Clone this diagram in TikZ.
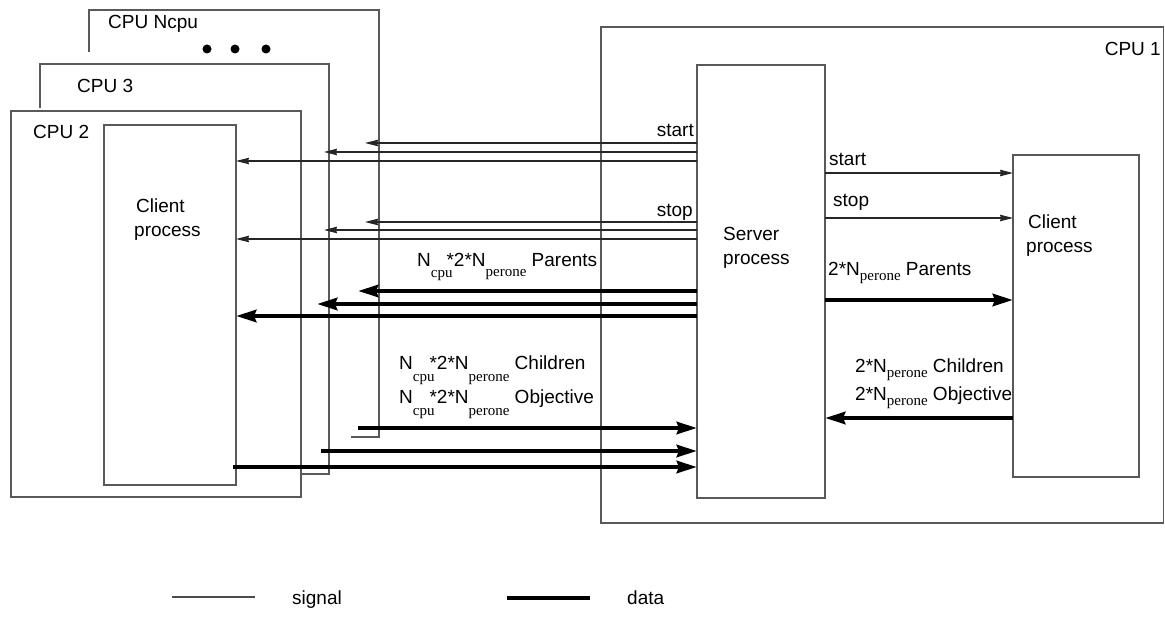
\documentclass[tikz,border=0pt]{standalone}
\usepackage{fontspec}
\setmainfont{Liberation Sans}
\newfontfamily\subf{Liberation Serif}
\usetikzlibrary{arrows.meta}
\newcommand\lsub[2]{\raisebox{#1}{\subf\fontsize{15}{15}\selectfont #2}}
\begin{document}
\begin{tikzpicture}[x=1pt,y=-1pt,
  frame/.style={draw=black!65,line width=1.3pt},
  box/.style={frame,anchor=north west,inner sep=0pt,outer sep=0pt},
  sig/.style={draw=black!85,line width=1.1pt,-{Stealth[length=13pt,width=6.5pt,inset=1pt]}},
  dat/.style={draw=black,line width=4.5pt,-{Stealth[length=20pt,width=12pt,inset=2pt]}},
  lbl/.style={inner sep=0pt,font=\fontsize{19}{24}\selectfont},
]
\useasboundingbox (0,0) rectangle (1165,636);
% back CPU frames
\draw[frame] (89,52) -- (89,10) -- (379,10) -- (379,437) -- (351,437);
\draw[frame] (40,108) -- (40,64) -- (329,64) -- (329,474) -- (302,474);
\fill[black] (207,49) circle (4.5) (235,49) circle (4.5) (266,49) circle (4.5);
% boxes
\node[box,minimum width=290pt,minimum height=386pt] (cpu2) at (11,111) {};
\node[box,minimum width=132pt,minimum height=360pt] (clientL) at (104,125) {};
\node[box,minimum width=562.5pt,minimum height=496pt] (cpu1) at (601,27) {};
\node[box,minimum width=128pt,minimum height=433pt] (server) at (697,65) {};
\node[box,minimum width=126pt,minimum height=322pt] (clientR) at (1013,155) {};
% tip coordinates
\coordinate (tipN) at (365,0);
\coordinate (tip3) at (324,0);
\coordinate (dN) at (358,0);
\coordinate (d3) at (317,0);
\coordinate (sN) at (358,0);
\coordinate (s3) at (321,0);
% left signals
\draw[sig] (server.west |- 0,143) -- (tipN |- 0,143);
\draw[sig] (server.west |- 0,152) -- (tip3 |- 0,152);
\draw[sig] (server.west |- 0,161) -- (clientL.east |- 0,161);
\draw[sig] (server.west |- 0,222) -- (tipN |- 0,222);
\draw[sig] (server.west |- 0,230) -- (tip3 |- 0,230);
\draw[sig] (server.west |- 0,239) -- (clientL.east |- 0,239);
% left data
\draw[dat] (server.west |- 0,291) -- (dN |- 0,291);
\draw[dat] (server.west |- 0,304) -- (d3 |- 0,304);
\draw[dat] (server.west |- 0,316) -- (clientL.east |- 0,316);
\draw[dat] (sN |- 0,428) -- (server.west |- 0,428);
\draw[dat] (s3 |- 0,451) -- (server.west |- 0,451);
\draw[dat] ([xshift=-3pt]clientL.east |- 0,467) -- (server.west |- 0,467);
% right
\draw[sig] (server.east |- 0,173) -- (clientR.west |- 0,173);
\draw[sig] (server.east |- 0,218) -- (clientR.west |- 0,218);
\draw[dat] (server.east |- 0,300) -- (clientR.west |- 0,300);
\draw[dat] (clientR.west |- 0,418) -- (server.east |- 0,418);
% labels
\node[lbl,anchor=base west] (lN) at (108,29) {CPU Ncpu};
\node[lbl,anchor=base west] (l3) at (77,93) {CPU 3};
\node[lbl,anchor=base west] (l2) at (33,139) {CPU 2};
\node[lbl,anchor=base east] (l1) at (1161,56) {CPU 1};
\node[lbl,anchor=base west,align=left] (tcl) at (134,237) {\hspace{2pt}Client\\process};
\node[lbl,anchor=base west,align=left] (tsv) at (723,265) {Server\\process};
\node[lbl,anchor=base west,align=left] (tcr) at (1026,253) {\hspace{2pt}Client\\process};
\node[lbl,anchor=base east] (ls1) at (694,137) {start};
\node[lbl,anchor=base east] (ls2) at (693,217) {stop};
\node[lbl,anchor=base west] (lp) at (417,267) {N\lsub{-11pt}{cpu}\hspace{-6pt}*2*N\lsub{-10pt}{perone} Parents};
\node[lbl,anchor=base west] (lc) at (399,370) {N\lsub{-12pt}{cpu}\hspace{-5pt}*2*N\lsub{-12pt}{perone} Children};
\node[lbl,anchor=base west] (lo) at (399,403) {N\lsub{-12pt}{cpu}\hspace{-5pt}*2*N\lsub{-12pt}{perone} Objective};
\node[lbl,anchor=base west] (rs1) at (829,166) {start};
\node[lbl,anchor=base west] (rs2) at (833,207) {stop};
\node[lbl,anchor=base west] (rp) at (828,276) {2*N\lsub{-5pt}{perone} Parents};
\node[lbl,anchor=base west] (rc) at (855,373) {2*N\lsub{-5pt}{perone} Children};
\node[lbl,anchor=base west] (ro) at (855,400) {2*N\lsub{-5pt}{perone} Objective};
% legend
\coordinate (g1a) at (172,597); \coordinate (g1b) at (255,597);
\coordinate (g2a) at (507,598); \coordinate (g2b) at (590,598);
\draw[draw=black!70,line width=1.3pt] (g1a) -- (g1b);
\draw[black,line width=4.5pt] (g2a) -- (g2b);
\node[lbl,anchor=base west] (ts) at (292,604) {signal};
\node[lbl,anchor=base west] (td) at (627,604) {data};
\end{tikzpicture}
\end{document}
